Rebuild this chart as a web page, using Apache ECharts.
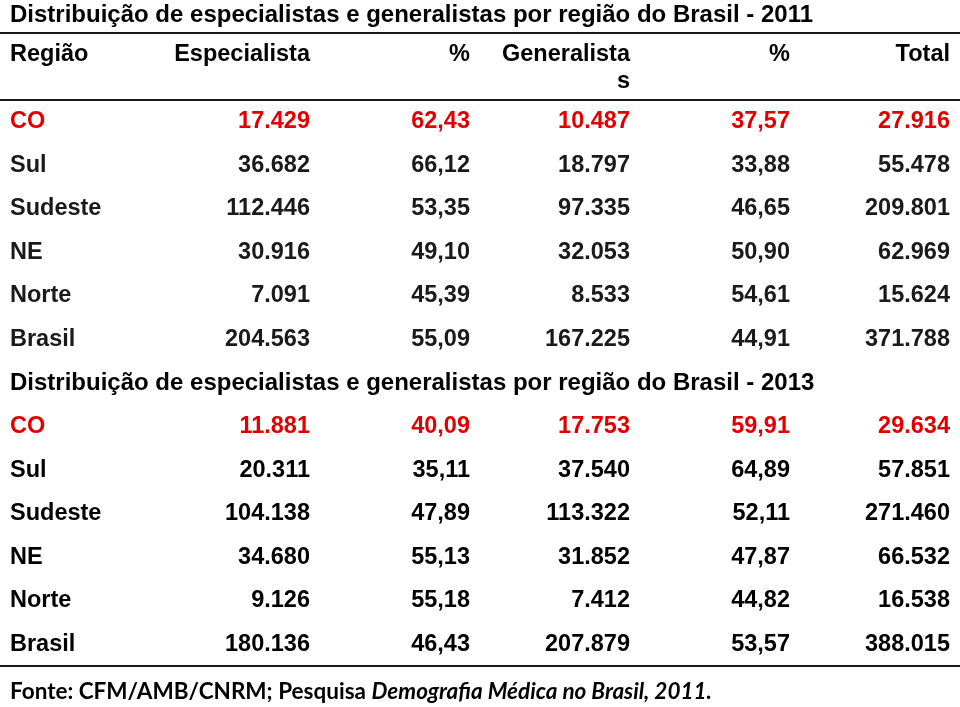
<!DOCTYPE html>
<html>
<head>
<meta charset="utf-8">
<script src="https://cdn.jsdelivr.net/npm/echarts@6/dist/echarts.min.js"></script>
<style>html,body{margin:0;padding:0;background:#fff}#c{width:960px;height:707px}</style>
</head>
<body>
<div id="c"></div>
<script>
const title2011 = 'Distribuição de especialistas e generalistas por região do Brasil - 2011';
const title2013 = 'Distribuição de especialistas e generalistas por região do Brasil - 2013';
const headers = ['Região', 'Especialista', '%', 'Generalista\ns', '%', 'Total'];
const regions = ['CO', 'Sul', 'Sudeste', 'NE', 'Norte', 'Brasil'];

const esp2011 = [17429, 36682, 112446, 30916, 7091, 204563];
const pctEsp2011 = [62.43, 66.12, 53.35, 49.10, 45.39, 55.09];
const gen2011 = [10487, 18797, 97335, 32053, 8533, 167225];
const pctGen2011 = [37.57, 33.88, 46.65, 50.90, 54.61, 44.91];
const tot2011 = [27916, 55478, 209801, 62969, 15624, 371788];

const esp2013 = [11881, 20311, 104138, 34680, 9126, 180136];
const pctEsp2013 = [40.09, 35.11, 47.89, 55.13, 55.18, 46.43];
const gen2013 = [17753, 37540, 113322, 31852, 7412, 207879];
const pctGen2013 = [59.91, 64.89, 52.11, 47.87, 44.82, 53.57];
const tot2013 = [29634, 57851, 271460, 66532, 16538, 388015];

const footerPlain = 'Fonte: CFM/AMB/CNRM; Pesquisa ';
const footerItalic = 'Demografia Médica no Brasil, 2011.';

function fmtInt(n) { return String(n).replace(/\B(?=(\d{3})+(?!\d))/g, '.'); }
function fmtPct(p) { return p.toFixed(2).replace('.', ','); }

const FONT = '"Liberation Sans", Arial, sans-serif';
const RED = '#e00000';

const colKeys = ['c0', 'c1', 'c2', 'c3', 'c4', 'c5'];
const rowKeys = [];
regions.forEach(r => rowKeys.push('2011 ' + r));
rowKeys.push('title2013');
regions.forEach(r => rowKeys.push('2013 ' + r));

const leftCells = [];
const rightCells = [];
function addRow(rowIdx, vals, color) {
  leftCells.push({ value: [0, rowIdx], name: vals[0], label: { color: color } });
  for (let c = 1; c < 6; c++) {
    rightCells.push({ value: [c, rowIdx], name: vals[c], label: { color: color } });
  }
}
regions.forEach((r, i) => {
  addRow(i, [r, fmtInt(esp2011[i]), fmtPct(pctEsp2011[i]), fmtInt(gen2011[i]), fmtPct(pctGen2011[i]), fmtInt(tot2011[i])],
    i === 0 ? RED : '#1a1a1a');
});
leftCells.push({ value: [0, 6], name: title2013, label: { color: '#000', fontSize: 24 } });
regions.forEach((r, i) => {
  addRow(7 + i, [r, fmtInt(esp2013[i]), fmtPct(pctEsp2013[i]), fmtInt(gen2013[i]), fmtPct(pctGen2013[i]), fmtInt(tot2013[i])],
    i === 0 ? RED : '#000');
});

const headerLeft = [{ value: [0, 0], name: headers[0] }];
const headerRight = headers.slice(1).map((h, i) => ({ value: [i + 1, 0], name: h }));

const lineStyle = { show: true, lineStyle: { color: '#1a1a1a', width: 2 } };
const hiddenAxisBits = { axisTick: { show: false }, axisLabel: { show: false }, splitLine: { show: false } };

const baseLabel = {
  show: true,
  fontFamily: FONT,
  fontSize: 23.5,
  fontWeight: 'bold',
  opacity: 1,
  formatter: p => p.name
};
const transparent = { color: 'rgba(0,0,0,0)', opacity: 1 };

const chart = echarts.init(document.getElementById('c'), null, { renderer: 'canvas' });
chart.setOption({
  animation: false,
  backgroundColor: '#fff',
  title: [
    {
      text: title2011, left: 10, top: 3, padding: 0,
      textStyle: { fontFamily: FONT, fontSize: 24, fontWeight: 'bold', color: '#000' }
    },
    {
      text: '{b|' + footerPlain + '}{i|' + footerItalic + '}', left: 10, top: 680, padding: 0,
      textStyle: {
        rich: {
          b: { fontFamily: 'Lato, sans-serif', fontSize: 22.5, fontWeight: 'bold', color: '#000' },
          i: { fontFamily: 'Lato, sans-serif', fontSize: 22.5, fontWeight: 'bold', fontStyle: 'italic', color: '#000' }
        }
      }
    }
  ],
  grid: [
    { left: 0, right: 0, top: 33, height: 67 },
    { left: 0, right: 0, top: 100, bottom: 41 }
  ],
  xAxis: [
    Object.assign({ gridIndex: 0, type: 'category', data: colKeys, position: 'top', axisLine: lineStyle }, hiddenAxisBits),
    Object.assign({ gridIndex: 1, type: 'category', data: colKeys, position: 'top', axisLine: lineStyle }, hiddenAxisBits),
    Object.assign({ gridIndex: 1, type: 'category', data: colKeys, position: 'bottom', axisLine: lineStyle }, hiddenAxisBits)
  ],
  yAxis: [
    Object.assign({ gridIndex: 0, type: 'category', data: ['header'], axisLine: { show: false } }, hiddenAxisBits),
    Object.assign({ gridIndex: 1, type: 'category', data: rowKeys, inverse: true, axisLine: { show: false } }, hiddenAxisBits)
  ],
  series: [
    {
      type: 'scatter', xAxisIndex: 0, yAxisIndex: 0, symbol: 'rect', symbolSize: [160, 60],
      itemStyle: transparent, silent: true, data: headerLeft,
      label: Object.assign({}, baseLabel, { position: 'insideLeft', distance: 10, color: '#000', verticalAlign: 'top', lineHeight: 27, offset: [0, -25] })
    },
    {
      type: 'scatter', xAxisIndex: 0, yAxisIndex: 0, symbol: 'rect', symbolSize: [160, 60],
      itemStyle: transparent, silent: true, data: headerRight,
      label: Object.assign({}, baseLabel, { position: 'insideRight', distance: 10, color: '#000', align: 'right', verticalAlign: 'top', lineHeight: 27, offset: [0, -25] })
    },
    {
      type: 'scatter', xAxisIndex: 1, yAxisIndex: 1, symbol: 'rect', symbolSize: [160, 40],
      itemStyle: transparent, silent: true, data: leftCells,
      label: Object.assign({}, baseLabel, { position: 'insideLeft', distance: 10 })
    },
    {
      type: 'scatter', xAxisIndex: 1, yAxisIndex: 1, symbol: 'rect', symbolSize: [160, 40],
      itemStyle: transparent, silent: true, data: rightCells,
      label: Object.assign({}, baseLabel, { position: 'insideRight', distance: 10 })
    }
  ]
});
</script>
</body>
</html>
